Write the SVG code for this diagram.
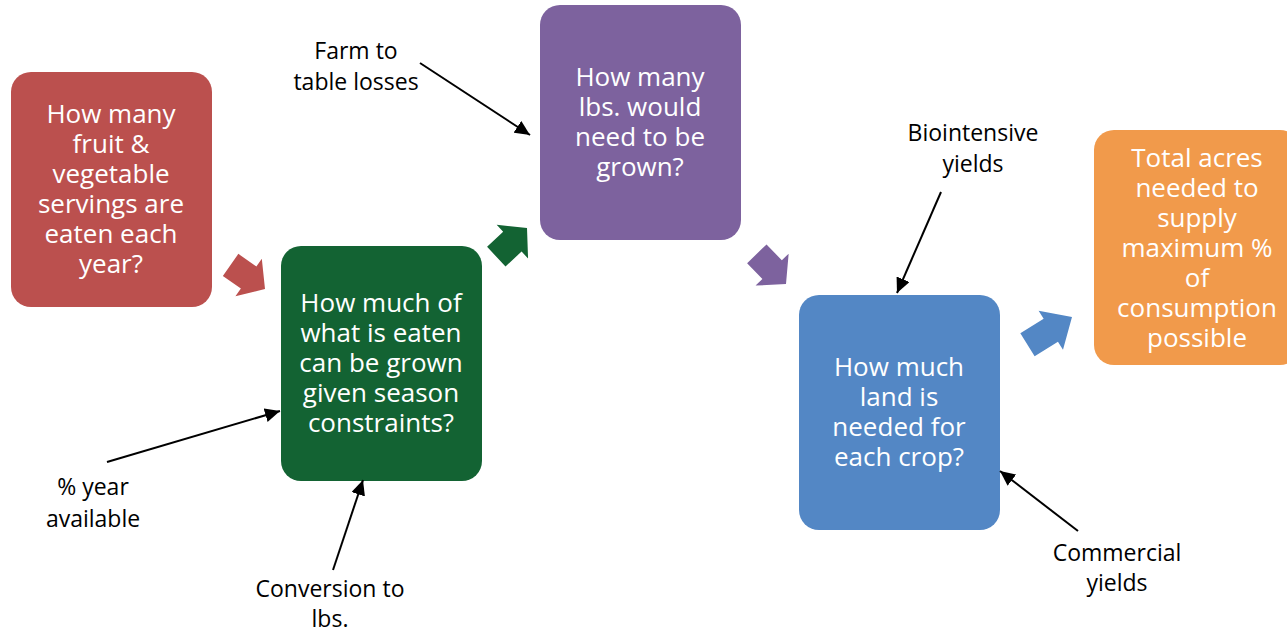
<svg xmlns="http://www.w3.org/2000/svg" width="1287" height="634" viewBox="0 0 1287 634">
<defs>
<style>
.box text{font-family:"Open Sans","Liberation Sans",sans-serif;font-size:26px;fill:#fff;text-anchor:middle}
.lbl{font-family:"Open Sans","Liberation Sans",sans-serif;font-size:23px;fill:#000;text-anchor:middle}
.conn line{stroke:#000;stroke-width:2;marker-end:url(#ah)}
</style>
<marker id="ah" markerUnits="userSpaceOnUse" markerWidth="16" markerHeight="14" refX="15" refY="7" orient="auto">
<path d="M0,0 L15,7 L0,14 z" fill="#000"/>
</marker>
<polygon id="blk" points="-42,-13.5 -20,-13.5 -20,-23 0,0 -20,23 -20,13.5 -42,13.5"/>
</defs>
<rect width="1287" height="634" fill="#fff"/>
<g id="n1" class="box">
<rect x="11" y="72" width="201" height="235" rx="20" fill="#BB504E"/>
<text x="111" y="123">How many</text>
<text x="111" y="153">fruit &amp;</text>
<text x="111" y="183">vegetable</text>
<text x="111" y="213">servings are</text>
<text x="111" y="243">eaten each</text>
<text x="111" y="273">year?</text>
</g>
<g id="n2" class="box">
<rect x="281" y="246" width="201" height="235" rx="20" fill="#136333"/>
<text x="381" y="312">How much of</text>
<text x="381" y="342">what is eaten</text>
<text x="381" y="372">can be grown</text>
<text x="381" y="402">given season</text>
<text x="381" y="432">constraints?</text>
</g>
<g id="n3" class="box">
<rect x="540" y="5" width="201" height="235" rx="20" fill="#7D629E"/>
<text x="640" y="86">How many</text>
<text x="640" y="116">lbs. would</text>
<text x="640" y="146">need to be</text>
<text x="640" y="176">grown?</text>
</g>
<g id="n4" class="box">
<rect x="799" y="295" width="201" height="235" rx="20" fill="#5387C5"/>
<text x="899" y="376">How much</text>
<text x="899" y="406">land is</text>
<text x="899" y="436">needed for</text>
<text x="899" y="466">each crop?</text>
</g>
<g id="n5" class="box">
<rect x="1094" y="130" width="206" height="235" rx="20" fill="#F19A4B"/>
<text x="1197" y="167">Total acres</text>
<text x="1197" y="197">needed to</text>
<text x="1197" y="227">supply</text>
<text x="1197" y="257">maximum %</text>
<text x="1197" y="287">of</text>
<text x="1197" y="317">consumption</text>
<text x="1197" y="347">possible</text>
</g>
<g id="l1"><text class="lbl" x="356" y="59">Farm to</text><text class="lbl" x="356" y="90">table losses</text></g>
<g id="l2"><text class="lbl" x="93" y="495">% year</text><text class="lbl" x="93" y="527">available</text></g>
<g id="l3"><text class="lbl" x="330" y="597">Conversion to</text><text class="lbl" x="330" y="627">lbs.</text></g>
<g id="l4"><text class="lbl" x="973" y="141">Biointensive</text><text class="lbl" x="973" y="172">yields</text></g>
<g id="l5"><text class="lbl" x="1117" y="561">Commercial</text><text class="lbl" x="1117" y="591">yields</text></g>
<g id="connectors" class="conn">
<use href="#blk" fill="#BB504E" transform="translate(265,289) rotate(35)"/>
<use href="#blk" fill="#136333" transform="translate(527,228) rotate(-43)"/>
<use href="#blk" fill="#7D629E" transform="translate(786,284) rotate(46)"/>
<use href="#blk" fill="#5387C5" transform="translate(1072,317) rotate(-32) scale(1.25,1)"/>
<line x1="420" y1="63" x2="530" y2="135"/>
<line x1="107" y1="462" x2="280" y2="411"/>
<line x1="333" y1="570" x2="363" y2="480"/>
<line x1="941" y1="192" x2="897" y2="293"/>
<line x1="1078" y1="531" x2="1000" y2="471"/>
</g>
</svg>
